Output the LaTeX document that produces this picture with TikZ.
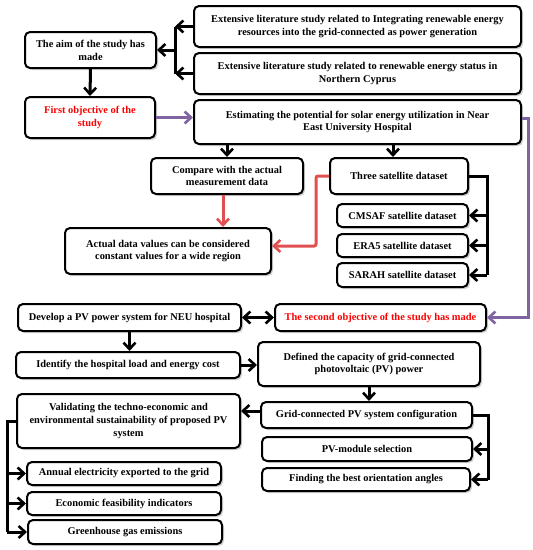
\documentclass[tikz,border=0pt]{standalone}
\usepackage{fontspec}
\setmainfont{Liberation Serif}
\usetikzlibrary{arrows.meta,shadows}
\definecolor{redtxt}{RGB}{255,0,0}
\definecolor{redarrow}{RGB}{224,80,80}
\definecolor{purparrow}{RGB}{128,100,162}
\tikzset{
  box/.style={draw=black, line width=2pt, rounded corners=5pt, fill=white,
    align=center, font=\fontsize{10.4}{12.8}\selectfont\bfseries, inner sep=1pt,
    drop shadow={shadow xshift=2pt, shadow yshift=-2pt, opacity=0.35}},
  barb/.tip={Straight Barb[length=6.5pt,width=12pt,line width=2.6pt]},
  tip/.style={-barb},
  arr/.style={tip, line width=3pt, draw=black},
  dblarr/.style={barb-barb, line width=3pt, draw=black},
  bus/.style={line width=3pt, draw=black},
  redarr/.style={tip, line width=3pt, draw=redarrow},
  purparr/.style={tip, line width=3pt, draw=purparrow}
}
\begin{document}
\begin{tikzpicture}[x=1pt,y=-1pt]
\useasboundingbox (0,0) rectangle (533,550);
\fill[white] (0,0) rectangle (533,550);

% boxes
\node[box, minimum width=327pt, minimum height=41pt] (lit1) at (357.5,26.5) {Extensive literature study related to Integrating renewable energy\\resources into the grid-connected as power generation};
\node[box, minimum width=327pt, minimum height=41pt] (lit2) at (357.5,73.5) {Extensive literature study related to renewable energy status in\\Northern Cyprus};
\node[box, minimum width=131pt, minimum height=36pt] (aim) at (90.5,50) {The aim of the study has\\made};
\node[box, minimum width=130pt, minimum height=41pt, text=redtxt] (first) at (90,117.5) {First objective of the\\study};
\node[box, minimum width=327pt, minimum height=44pt] (est) at (357.5,122) {Estimating the potential for solar energy utilization in Near\\East University Hospital};
\node[box, minimum width=152pt, minimum height=36pt] (compare) at (227,176) {Compare with the actual\\measurement data};
\node[box, minimum width=138pt, minimum height=36pt] (three) at (399,176) {Three satellite dataset};
\node[box, minimum width=206pt, minimum height=46pt] (actual) at (168,251) {Actual data values can be considered\\constant values for a wide region};
\node[box, minimum width=131pt, minimum height=23pt] (cmsaf) at (402.5,215.5) {CMSAF satellite dataset};
\node[box, minimum width=131pt, minimum height=23pt] (era5) at (402.5,245.5) {ERA5 satellite dataset};
\node[box, minimum width=131pt, minimum height=24pt] (sarah) at (402.5,275) {SARAH satellite dataset};
\node[box, minimum width=223pt, minimum height=27pt] (develop) at (129.5,317.5) {Develop a PV power system for NEU hospital};
\node[box, minimum width=211pt, minimum height=27pt, text=redtxt] (second) at (380.5,317.5) {The second objective of the study has made};
\node[box, minimum width=224pt, minimum height=26pt] (identify) at (128,365) {Identify the hospital load and energy cost};
\node[box, minimum width=222pt, minimum height=44pt] (defined) at (369,364) {Defined the capacity of grid-connected\\photovoltaic (PV) power};
\node[box, minimum width=211pt, minimum height=26pt] (grid) at (366.5,415) {Grid-connected PV system configuration};
\node[box, minimum width=223pt, minimum height=54pt] (valid) at (128.5,421) {Validating the techno-economic and\\environmental sustainability of proposed PV\\system};
\node[box, minimum width=210pt, minimum height=24pt] (pvmod) at (367,449) {PV-module selection};
\node[box, minimum width=208pt, minimum height=23pt] (finding) at (366,479.5) {Finding the best orientation angles};
\node[box, minimum width=194pt, minimum height=23pt] (annual) at (124,473.5) {Annual electricity exported to the grid};
\node[box, minimum width=194pt, minimum height=23pt] (econ) at (124,503.5) {Economic feasibility indicators};
\node[box, minimum width=194pt, minimum height=24pt] (ghg) at (125,532) {Greenhouse gas emissions};

% bus coordinates
\coordinate (litbus) at (175,50);
\coordinate (satbus) at (487,176);
\coordinate (gridbus) at (488,415);
\coordinate (valbus) at (7,421);

% literature -> aim
\draw[arr] (lit1.west) -- (lit1.west -| litbus);
\draw[arr] (lit2.west) -- (lit2.west -| litbus);
\draw[bus] (lit1.west -| litbus) -- (lit2.west -| litbus);
\draw[arr] (litbus) -- (aim.east |- litbus);

\draw[arr] (aim.south) -- (first.north);
\draw[purparr] (first.east) -- (first.east -| est.west);
\draw[arr] (est.south -| compare.north) -- (compare.north);
\draw[arr] (est.south -| 393,0) -- (three.north -| 393,0);
\draw[redarr] ([xshift=-4pt]compare.south) -- ([xshift=-4pt]compare.south |- actual.north);
\draw[redarr, rounded corners=2pt] (three.west) -- ++(-13,0) |- ([yshift=5pt]actual.east);

% satellite bus
\draw[bus] (three.east) -- (satbus) -- (satbus |- sarah.east);
\draw[arr] (satbus |- cmsaf.east) -- (cmsaf.east);
\draw[arr] (satbus |- era5.east) -- (era5.east);
\draw[arr] (satbus |- sarah.east) -- (sarah.east);

% purple to second objective
\draw[purparr] ([yshift=4pt]est.east) -- ++(6,0) |- (second.east);

% second part
\draw[dblarr] (develop.east) -- (second.west);
\draw[arr] (develop.south) -- (identify.north -| develop.south);
\draw[arr] (identify.east) -- (identify.east -| defined.west);
\draw[arr] (defined.south) -- (defined.south |- grid.north);
\draw[arr] ([yshift=4pt]grid.west) -- ([yshift=4pt]grid.west -| valid.east);

\draw[bus] (grid.east) -- (gridbus) -- (gridbus |- finding.east);
\draw[arr] (gridbus |- pvmod.east) -- (pvmod.east);
\draw[arr] (gridbus |- finding.east) -- (finding.east);

\draw[bus] (valid.west) -- (valbus) -- (valbus |- ghg.west);
\draw[arr] (valbus |- annual.west) -- (annual.west);
\draw[arr] (valbus |- econ.west) -- (econ.west);
\draw[arr] (valbus |- ghg.west) -- (ghg.west);
\end{tikzpicture}
\end{document}
